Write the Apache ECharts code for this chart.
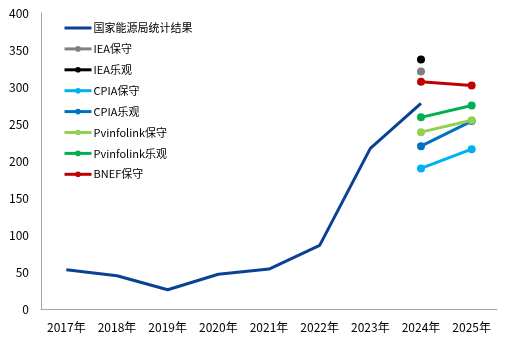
<!DOCTYPE html>
<html><head><meta charset="utf-8">
<script src="https://cdn.jsdelivr.net/npm/echarts@6/dist/echarts.min.js"></script>
<style>html,body{margin:0;padding:0;background:#fff}#c{width:511px;height:341px}</style>
</head><body><div id="c"></div>
<script>
var categories = ['2017年','2018年','2019年','2020年','2021年','2022年','2023年','2024年','2025年'];
var national = [53, 45, 26, 47, 54, 86, 217, 278, null];
var ieaCons = [null, null, null, null, null, null, null, 321, null];
var ieaOpt = [null, null, null, null, null, null, null, 337, null];
var cpiaCons = [null, null, null, null, null, null, null, 190, 216];
var cpiaOpt = [null, null, null, null, null, null, null, 220, 254];
var pvCons = [null, null, null, null, null, null, null, 239, 255];
var pvOpt = [null, null, null, null, null, null, null, 259, 275];
var bnefCons = [null, null, null, null, null, null, null, 307, 302];
var yTicks = {min: 0, max: 400, interval: 50};

var chart = echarts.init(document.getElementById('c'));
var font = '"Noto Sans CJK SC", "Noto Sans", sans-serif';
function s(name, data, color) {
  return {name: name, type: 'line', data: data, symbol: 'circle', symbolSize: 8,
    lineStyle: {width: 3, color: color}, itemStyle: {color: color}, z: 3};
}
var names = ['国家能源局统计结果','IEA保守','IEA乐观','CPIA保守','CPIA乐观','Pvinfolink保守','Pvinfolink乐观','BNEF保守'];
chart.setOption({
  animation: false,
  textStyle: {fontFamily: font},
  grid: {left: 41, right: 14, top: 13, bottom: 32},
  legend: {
    orient: 'vertical', left: 58, top: 16, itemGap: 6.9, itemWidth: 27, itemHeight: 7,
    lineStyle: {width: 3},
    textStyle: {fontSize: 11, lineHeight: 14, color: '#000', fontFamily: font, padding: [0,0,0,-3]},
    data: names.map(function (n, i) {
      return i === 0 ? {name: n, itemStyle: {opacity: 0}} : {name: n};
    })
  },
  xAxis: {
    type: 'category', data: categories, boundaryGap: true,
    axisLine: {lineStyle: {color: '#a6a6a6', width: 1}},
    axisTick: {show: false},
    axisLabel: {color: '#000', fontSize: 12, margin: 12, fontFamily: font}
  },
  yAxis: {
    type: 'value', min: yTicks.min, max: yTicks.max, interval: yTicks.interval,
    axisLine: {show: true, lineStyle: {color: '#a6a6a6', width: 1}},
    axisTick: {show: false},
    splitLine: {show: false},
    axisLabel: {color: '#000', fontSize: 12, margin: 12, fontFamily: font}
  },
  series: [
    {name: '国家能源局统计结果', type: 'line', data: national, symbol: 'none',
      lineStyle: {width: 3, color: '#0a4195'}, itemStyle: {color: '#0a4195'}},
    s('IEA保守', ieaCons, '#808080'),
    s('IEA乐观', ieaOpt, '#000000'),
    s('CPIA保守', cpiaCons, '#00b0f0'),
    s('CPIA乐观', cpiaOpt, '#0070c0'),
    s('Pvinfolink保守', pvCons, '#92d050'),
    s('Pvinfolink乐观', pvOpt, '#00b050'),
    s('BNEF保守', bnefCons, '#c00000')
  ]
});
</script></body></html>
